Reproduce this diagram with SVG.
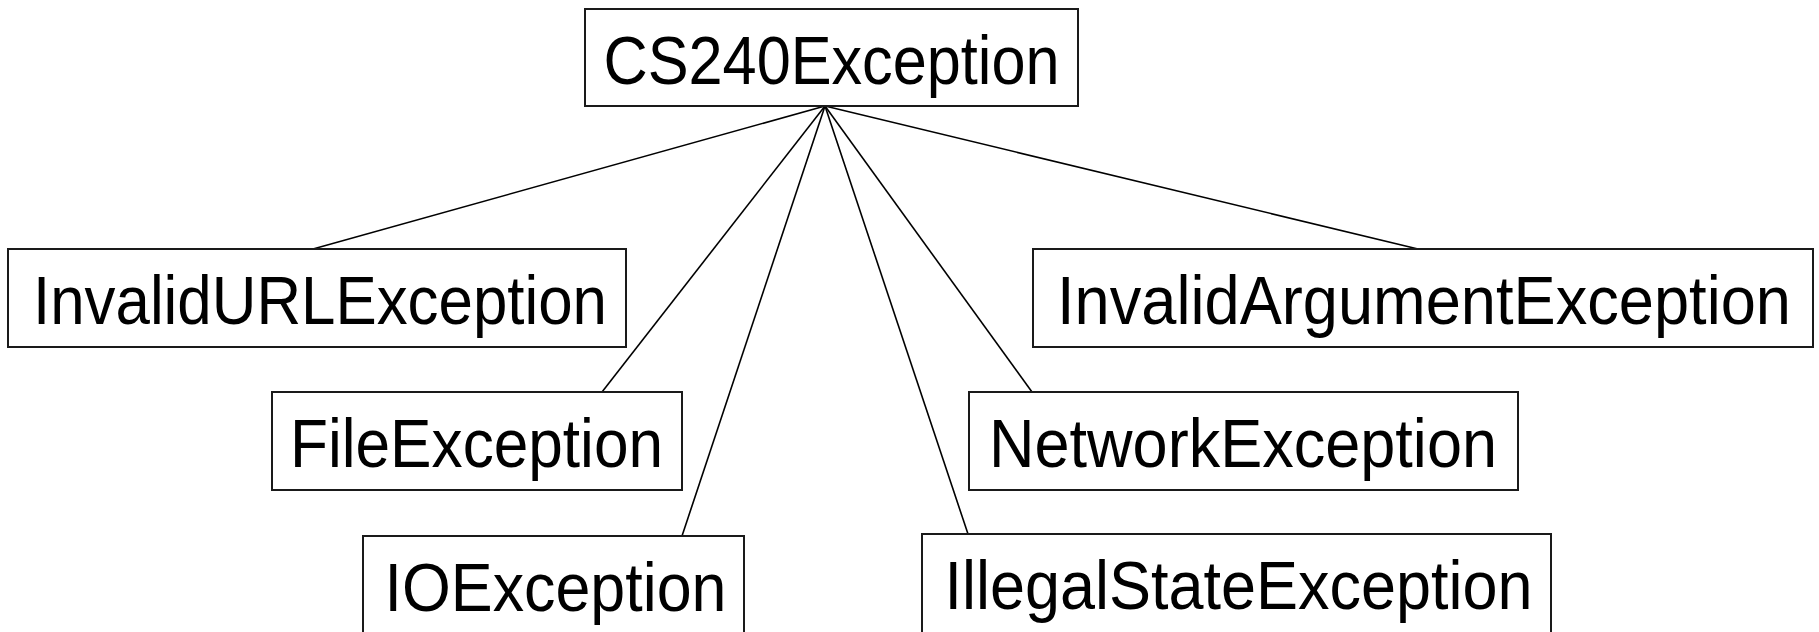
<svg xmlns="http://www.w3.org/2000/svg" width="1819" height="632" viewBox="0 0 1819 632">
<style>
.box{fill:#fff;stroke:#1a1a1a;stroke-width:2}
.lbl{font-family:"Liberation Sans",Arial,sans-serif;font-size:68px;fill:#000;text-anchor:middle}
.conn line{stroke:#000;stroke-width:1.6}
</style>
<rect width="1819" height="632" fill="#fff"/>
<g id="connectors" class="conn">
<line x1="825" y1="106" x2="313" y2="249"/>
<line x1="825" y1="106" x2="602" y2="392"/>
<line x1="825" y1="106" x2="682" y2="536"/>
<line x1="825" y1="106" x2="1418" y2="249"/>
<line x1="825" y1="106" x2="1032" y2="392"/>
<line x1="825" y1="106" x2="970" y2="540"/>
</g>
<g id="CS240Exception">
<rect class="box" x="585" y="9" width="493" height="97"/>
<text class="lbl" x="831.5" y="84" textLength="456" lengthAdjust="spacingAndGlyphs">CS240Exception</text>
</g>
<g id="InvalidURLException">
<rect class="box" x="8" y="249" width="618" height="98"/>
<text class="lbl" x="320" y="324" textLength="574" lengthAdjust="spacingAndGlyphs">InvalidURLException</text>
</g>
<g id="FileException">
<rect class="box" x="272" y="392" width="410" height="98"/>
<text class="lbl" x="476.5" y="467" textLength="373" lengthAdjust="spacingAndGlyphs">FileException</text>
</g>
<g id="IOException">
<rect class="box" x="363" y="536" width="381" height="110"/>
<text class="lbl" x="555.5" y="611" textLength="342" lengthAdjust="spacingAndGlyphs">IOException</text>
</g>
<g id="InvalidArgumentException">
<rect class="box" x="1033" y="249" width="780" height="98"/>
<text class="lbl" x="1424" y="324" textLength="734" lengthAdjust="spacingAndGlyphs">InvalidArgumentException</text>
</g>
<g id="NetworkException">
<rect class="box" x="969" y="392" width="549" height="98"/>
<text class="lbl" x="1243" y="467" textLength="508" lengthAdjust="spacingAndGlyphs">NetworkException</text>
</g>
<g id="IllegalStateException">
<rect class="box" x="922" y="534" width="629" height="110"/>
<text class="lbl" x="1238.5" y="609" textLength="588" lengthAdjust="spacingAndGlyphs">IllegalStateException</text>
</g>
</svg>
